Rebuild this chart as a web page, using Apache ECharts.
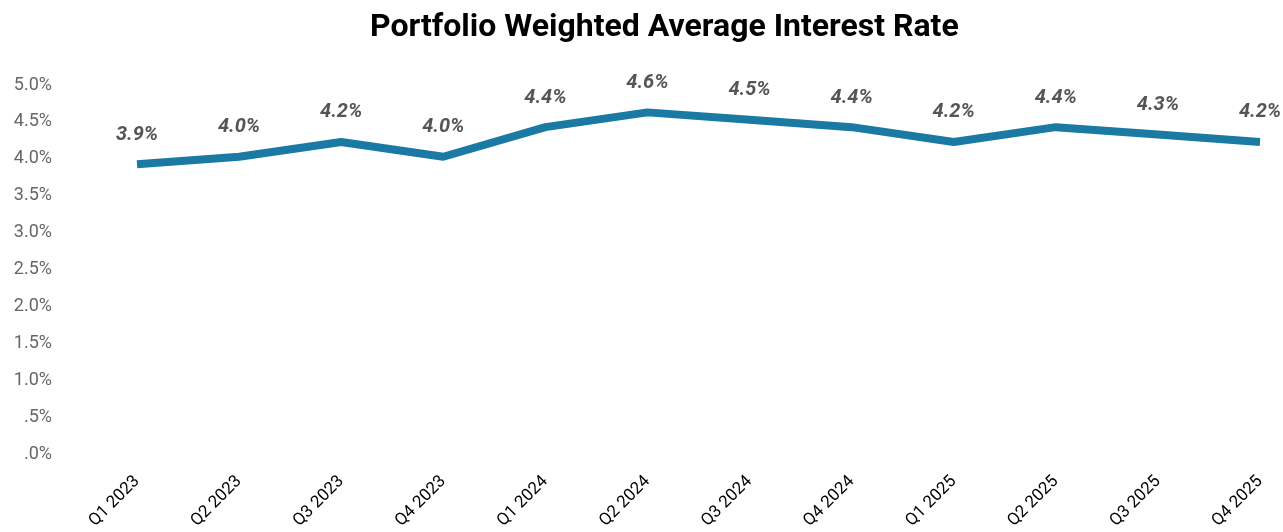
<!DOCTYPE html>
<html>
<head>
<meta charset="utf-8">
<script src="https://cdn.jsdelivr.net/npm/echarts@6/dist/echarts.min.js"></script>
<style>
  html, body { margin: 0; padding: 0; background: #fff; }
  #chart { width: 1283px; height: 532px; }
</style>
</head>
<body>
<div id="chart"></div>
<script>
const quarters = ['Q1 2023', 'Q2 2023', 'Q3 2023', 'Q4 2023', 'Q1 2024', 'Q2 2024',
  'Q3 2024', 'Q4 2024', 'Q1 2025', 'Q2 2025', 'Q3 2025', 'Q4 2025']
const rates = [3.93, 4.03, 4.23, 4.03, 4.43, 4.63, 4.53, 4.43, 4.23, 4.43, 4.33, 4.23]

const chart = echarts.init(document.getElementById('chart'))
const options = {
  textStyle: { fontFamily: 'Roboto' },
  title: {
    text: 'Portfolio Weighted Average Interest Rate',
    left: 365,
    top: 7,
    textStyle: { fontSize: 32, fontWeight: 'bold', color: '#000', fontFamily: 'Roboto' }
  },
  grid: {
    top: 85,
    bottom: 77,
    left: 137,
    right: 23,
    containLabel: false
  },
  xAxis: {
    type: 'category',
    boundaryGap: false,
    data: quarters,
    axisLine: { show: false },
    axisTick: { show: false },
    axisLabel: {
      rotate: 45,
      color: '#000',
      fontSize: 17,
      margin: 24,
      interval: 0
    }
  },
  yAxis: {
    type: 'value',
    min: 0,
    max: 5,
    interval: 0.5,
    splitLine: { show: false },
    axisLine: { show: false },
    axisTick: { show: false },
    axisLabel: {
      color: '#666',
      fontSize: 18,
      margin: 85,
      formatter: (v) => {
        const s = v.toFixed(1)
        return (s.startsWith('0') ? s.slice(1) : s) + '%'
      }
    }
  },
  series: [
    {
      type: 'line',
      data: rates,
      symbol: 'circle',
      symbolSize: 1,
      showSymbol: true,
      itemStyle: { color: 'transparent' },
      lineStyle: { color: '#1a7aa3', width: 8 },
      label: {
        show: true,
        position: 'top',
        distance: 19,
        color: '#555',
        fontSize: 20,
        fontWeight: 'bold',
        fontStyle: 'italic',
        formatter: (p) => p.value.toFixed(1) + '%'
      }
    }
  ]
}
chart.setOption(options)
</script>
</body>
</html>
